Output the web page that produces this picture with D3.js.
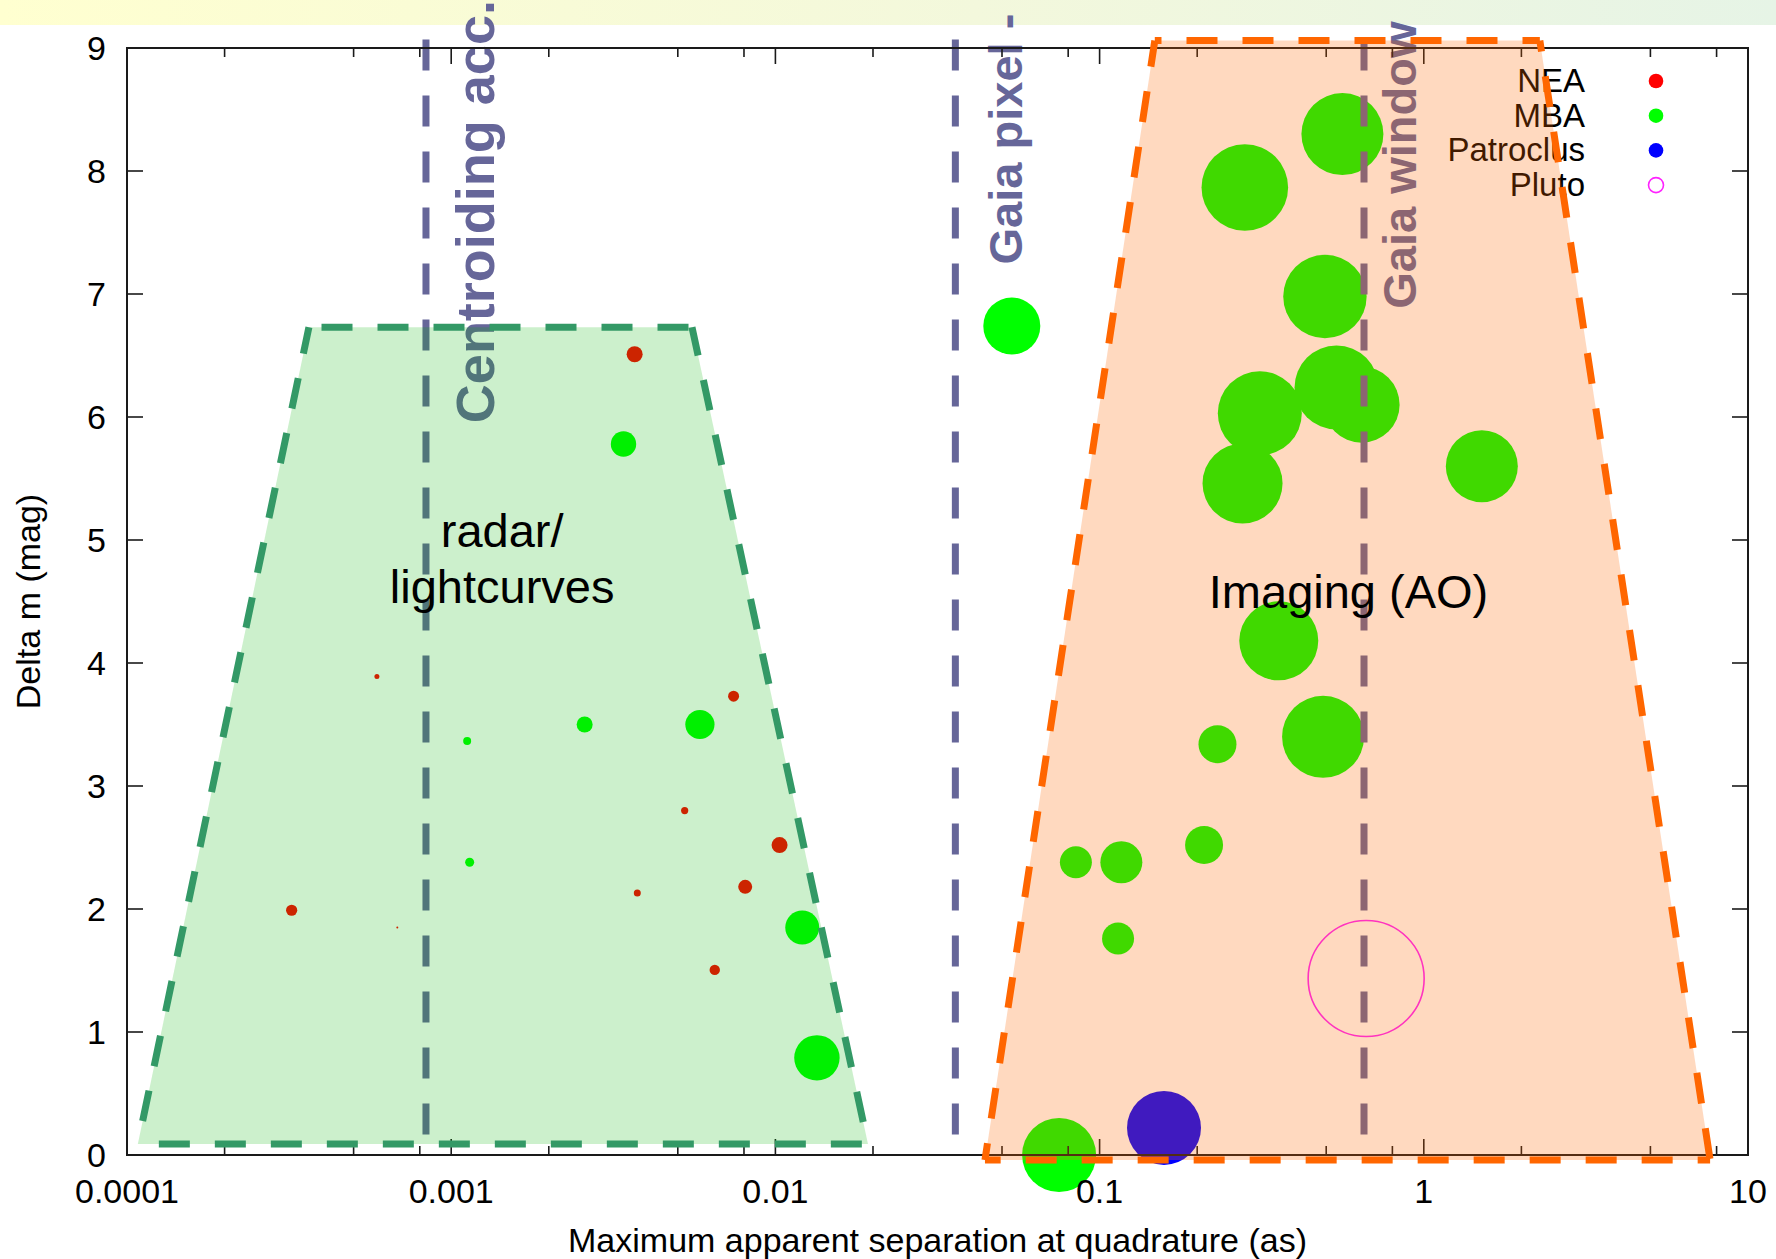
<!DOCTYPE html>
<html>
<head>
<meta charset="utf-8">
<script src="https://cdn.jsdelivr.net/npm/d3@7"></script>
<style>
html,body{margin:0;padding:0;background:#fff;}
svg{display:block;}
text{font-family:"Liberation Sans",Arial,Helvetica,sans-serif;}
</style>
</head>
<body>
<script>
// ---------------- DATA ----------------
const xTickValues = [0.0001, 0.001, 0.01, 0.1, 1, 10];
const xTickLabels = ["0.0001", "0.001", "0.01", "0.1", "1", "10"];
const xMinorFactors = [2, 5, 8];
const yTickValues = [0, 1, 2, 3, 4, 5, 6, 7, 8, 9];
const yTickLabels = ["0", "1", "2", "3", "4", "5", "6", "7", "8", "9"];

const seriesNames = ["NEA", "MBA", "Patroclus", "Pluto"];

// [separation (as), delta m (mag), apparent marker size]
const neaPoints = [
  [0.00368, 6.51, 8],
  [0.00059, 3.89, 2.5],
  [0.00743, 3.73, 5.5],
  [0.00525, 2.80, 3.6],
  [0.0103, 2.52, 8],
  [0.00807, 2.18, 7],
  [0.00375, 2.13, 3.5],
  [0.000322, 1.99, 5.6],
  [0.000682, 1.85, 1],
  [0.0065, 1.505, 5.2]
];
const mbaPoints = [
  [0.0034, 5.78, 12.7],
  [0.00258, 3.50, 8],
  [0.00585, 3.50, 14.6],
  [0.00112, 3.365, 4],
  [0.00114, 2.38, 4.5],
  [0.0121, 1.85, 17],
  [0.01343, 0.79, 22.7],
  [0.0536, 6.74, 28.5],
  [0.561, 8.30, 41],
  [0.2805, 7.866, 43.3],
  [0.4955, 6.98, 41.7],
  [0.312, 6.03, 42],
  [0.538, 6.24, 42],
  [0.643, 6.10, 38],
  [0.276, 5.46, 40],
  [1.51, 5.60, 36],
  [0.357, 4.18, 39.5],
  [0.231, 3.34, 19],
  [0.489, 3.40, 41],
  [0.21, 2.52, 19],
  [0.0845, 2.38, 16],
  [0.1167, 2.38, 21],
  [0.114, 1.76, 16],
  [0.075, 0.0, 37]
];
const patroclusPoints = [[0.158, 0.22, 37]];
const plutoPoints = [[0.664, 1.435, 58]];

// limit lines (separation in as)
const limitNames = ["Centroiding acc.", "Gaia pixel -", "Gaia window"];
const limitValues = [0.000836, 0.0359, 0.654];

// technique regions: polygon vertices [separation, delta m]  (BL, BR, TR, TL)
const radarRegion = [[0.000108, 0.09], [0.0193, 0.09], [0.00553, 6.73], [0.000364, 6.73]];
const imagingRegion = [[0.0443, -0.04], [7.64, -0.04], [2.28, 9.06], [0.148, 9.06]];
const regionNames = [["radar/", "lightcurves"], ["Imaging (AO)"]];

// ---------------- LAYOUT / STYLE ----------------
const W = 1776, H = 1259;
const L = 127, R = 1748, T = 48, B = 1155;

const x = d3.scaleLog().domain([xTickValues[0], xTickValues[xTickValues.length - 1]]).range([L, R]);
const y = d3.scaleLinear().domain([yTickValues[0], yTickValues[yTickValues.length - 1]]).range([B, T]);
const r = d3.scaleLinear().domain([0, 60]).range([0, 60]);

const svg = d3.select("body").append("svg").attr("width", W).attr("height", H);

// top slide band
const defs = svg.append("defs");
const grad = defs.append("linearGradient").attr("id", "band").attr("x1", "0%").attr("x2", "100%");
grad.append("stop").attr("offset", "0%").attr("stop-color", "#ffffd0");
grad.append("stop").attr("offset", "55%").attr("stop-color", "#f3f8dc");
grad.append("stop").attr("offset", "100%").attr("stop-color", "#e6f4e6");
svg.append("rect").attr("x", 0).attr("y", 0).attr("width", W).attr("height", 25).attr("fill", "url(#band)");

// ---- points
const gPts = svg.append("g");
function drawSeries(data, fill, stroke, sw) {
  gPts.selectAll(null).data(data).enter().append("circle")
    .attr("cx", d => x(d[0])).attr("cy", d => y(d[1])).attr("r", d => r(d[2]))
    .attr("fill", fill).attr("stroke", stroke).attr("stroke-width", sw);
}
drawSeries(neaPoints, "#ff0000", "none", 0);
drawSeries(mbaPoints, "#00ff00", "none", 0);
drawSeries(patroclusPoints, "#0000ff", "none", 0);
drawSeries(plutoPoints, "none", "#ff22ff", 1.6);

// ---- limit lines
const annotColor = "#666699";
svg.append("g").selectAll("line").data(limitValues).enter().append("line")
  .attr("x1", d => x(d)).attr("x2", d => x(d))
  .attr("y1", y(9.07)).attr("y2", y(0.1))
  .attr("stroke", annotColor).attr("stroke-width", 7)
  .attr("stroke-dasharray", "31 25");

// ---- limit labels (rotated)
const limitLabelPos = [
  {x: 0.001355, y: 5.95, size: 54},
  {x: 0.0577, y: 7.24, size: 47},
  {x: 0.946, y: 6.88, size: 47}
];
svg.append("g").selectAll("text").data(limitNames).enter().append("text")
  .attr("transform", (d, i) => `translate(${x(limitLabelPos[i].x)},${y(limitLabelPos[i].y)}) rotate(-90)`)
  .attr("text-anchor", "start")
  .attr("font-weight", "bold")
  .attr("font-size", (d, i) => limitLabelPos[i].size)
  .attr("fill", annotColor)
  .text(d => d);

// ---- legend
const legStyles = [
  {fill: "#ff0000", stroke: "none", sw: 0},
  {fill: "#00ff00", stroke: "none", sw: 0},
  {fill: "#0000ff", stroke: "none", sw: 0},
  {fill: "none", stroke: "#ff22ff", sw: 1.6}
];
const gLeg = svg.append("g");
seriesNames.forEach((name, i) => {
  const by = 92 + i * 34.7;
  gLeg.append("text").attr("x", 1585).attr("y", by).attr("text-anchor", "end")
    .attr("font-size", 33).attr("fill", "#000").text(name);
  gLeg.append("circle").attr("cx", 1656).attr("cy", by - 11).attr("r", i === 3 ? 7.5 : 7.3)
    .attr("fill", legStyles[i].fill).attr("stroke", legStyles[i].stroke).attr("stroke-width", legStyles[i].sw);
});

// ---- axes
const gAx = svg.append("g").attr("stroke", "#1a1a1a");
const minorVals = [];
xTickValues.slice(0, -1).forEach(v => xMinorFactors.forEach(f => minorVals.push(v * f)));
xTickValues.forEach(v => {
  gAx.append("line").attr("x1", x(v)).attr("x2", x(v)).attr("y1", B).attr("y2", B - 16).attr("stroke-width", 1.6);
  gAx.append("line").attr("x1", x(v)).attr("x2", x(v)).attr("y1", T).attr("y2", T + 16).attr("stroke-width", 1.6);
});
minorVals.forEach(v => {
  gAx.append("line").attr("x1", x(v)).attr("x2", x(v)).attr("y1", B).attr("y2", B - 9).attr("stroke-width", 1.6);
  gAx.append("line").attr("x1", x(v)).attr("x2", x(v)).attr("y1", T).attr("y2", T + 9).attr("stroke-width", 1.6);
});
yTickValues.forEach(v => {
  gAx.append("line").attr("x1", L).attr("x2", L + 16).attr("y1", y(v)).attr("y2", y(v)).attr("stroke-width", 1.6);
  gAx.append("line").attr("x1", R).attr("x2", R - 16).attr("y1", y(v)).attr("y2", y(v)).attr("stroke-width", 1.6);
});
gAx.append("rect").attr("x", L).attr("y", T).attr("width", R - L).attr("height", B - T)
  .attr("fill", "none").attr("stroke-width", 2);

// tick labels
svg.append("g").selectAll("text").data(xTickValues).enter().append("text")
  .attr("x", d => x(d)).attr("y", 1203).attr("text-anchor", "middle")
  .attr("font-size", 34).attr("fill", "#000").text((d, i) => xTickLabels[i]);
svg.append("g").selectAll("text").data(yTickValues).enter().append("text")
  .attr("x", 106).attr("y", d => y(d)).attr("dy", "0.35em").attr("text-anchor", "end")
  .attr("font-size", 34).attr("fill", "#000").text((d, i) => yTickLabels[i]);

// axis titles
svg.append("text").attr("x", (L + R) / 2).attr("y", 1252).attr("text-anchor", "middle")
  .attr("font-size", 34).attr("fill", "#000").text("Maximum apparent separation at quadrature (as)");
svg.append("text").attr("transform", `translate(40,${(T + B) / 2}) rotate(-90)`).attr("text-anchor", "middle")
  .attr("font-size", 34).attr("fill", "#000").text("Delta m (mag)");

// ---- regions (drawn on top, translucent)
function drawRegion(poly, fill, fillOp, stroke, offsets) {
  const pts = poly.map(p => [x(p[0]), y(p[1])]);
  svg.append("path").attr("d", d3.line()(pts) + "Z").attr("fill", fill).attr("fill-opacity", fillOp).attr("stroke", "none");
  const [BL, BR, TR, TL] = pts;
  const edges = [[BL, BR, offsets[0]], [TL, BL, offsets[1]], [TR, BR, offsets[2]], [TL, TR, offsets[3]]];
  edges.forEach(e => {
    svg.append("line").attr("x1", e[0][0]).attr("y1", e[0][1]).attr("x2", e[1][0]).attr("y2", e[1][1])
      .attr("stroke", stroke).attr("stroke-width", 7).attr("stroke-dasharray", "31 25")
      .attr("stroke-dashoffset", e[2]);
  });
}
drawRegion(radarRegion, "rgb(0,180,0)", 0.2, "#339966", [35, 4, 2, 43.4]);
drawRegion(imagingRegion, "#ff6600", 0.25, "#ff6600", [15.3, 4.7, 19.9, 24.3]);

// ---- region labels (on top)
const regionLabelPos = [{x: 0.001436, y: 4.945}, {x: 0.586, y: 4.448}];
regionNames.forEach((lines, i) => {
  const t = svg.append("text")
    .attr("x", x(regionLabelPos[i].x)).attr("y", y(regionLabelPos[i].y))
    .attr("text-anchor", "middle").attr("font-size", 47).attr("fill", "#000");
  lines.forEach((ln, j) => {
    t.append("tspan").attr("x", x(regionLabelPos[i].x)).attr("dy", j === 0 ? 0 : 56).text(ln);
  });
});
</script>
</body>
</html>
